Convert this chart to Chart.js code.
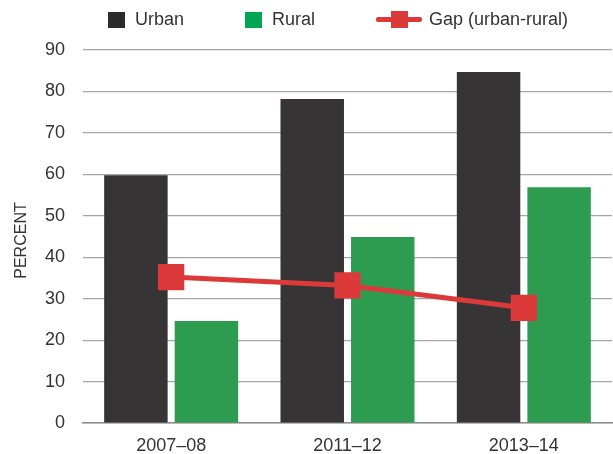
<!DOCTYPE html>
<html>
<head>
<meta charset="utf-8">
<script src="https://cdn.jsdelivr.net/npm/chart.js@4"></script>
<style>
  html, body { margin: 0; padding: 0; background: #fff; }
  #wrap { position: relative; width: 613px; height: 454px; }
  #legend {
    position: absolute; top: 9px; left: 108px;
    display: flex; align-items: center; white-space: nowrap;
    font-family: "Liberation Sans", Arial, sans-serif; font-size: 18px; color: #333;
  }
  .item { display: flex; align-items: center; margin-right: 61px; }
  .box { width: 17px; height: 16px; margin-right: 10px; }
  .line { position: relative; width: 46px; height: 17px; margin-right: 7px; }
  .line:before { content: ""; position: absolute; left: 0; right: 0; top: 6px; height: 5px; background: #dc3a3a; border-radius: 2px; }
  .line:after { content: ""; position: absolute; left: 15px; top: 0; width: 17px; height: 17px; background: #dc3a3a; }
</style>
</head>
<body>
<div id="wrap">
  <canvas id="chart" width="613" height="454"></canvas>
  <div id="legend">
    <div class="item"><span class="box" style="background:#2b2b2b"></span>Urban</div>
    <div class="item"><span class="box" style="background:#00a651"></span>Rural</div>
    <div class="item"><span class="line"></span>Gap (urban-rural)</div>
  </div>
</div>
<script>
const years = ['2007–08', '2011–12', '2013–14'];
const urban = [59.8, 78.2, 84.7];
const rural = [24.6, 44.9, 56.9];
const gap = [35.2, 33.2, 27.8];
const yTicks = [0, 10, 20, 30, 40, 50, 60, 70, 80, 90];
const yTitle = 'PERCENT';

const font = { family: '"Liberation Sans", Arial, sans-serif', size: 18 };

// axis title drawn by hand, sits closer to the edge than chart.js puts it
const yTitlePlugin = {
  id: 'yTitle',
  afterDraw(chart) {
    const ctx = chart.ctx;
    const area = chart.chartArea;
    ctx.save();
    ctx.translate(26, (area.top + area.bottom) / 2 + 4);
    ctx.rotate(-Math.PI / 2);
    ctx.font = '16px "Liberation Sans", Arial, sans-serif';
    ctx.fillStyle = '#333';
    ctx.textAlign = 'center';
    ctx.textBaseline = 'alphabetic';
    ctx.fillText(yTitle, 0, 0);
    ctx.restore();
  }
};

new Chart(document.getElementById('chart'), {
  type: 'bar',
  data: {
    labels: years,
    datasets: [
      {
        type: 'line',
        label: 'Gap (urban-rural)',
        data: gap,
        borderColor: '#dc3a3a',
        backgroundColor: '#dc3a3a',
        borderWidth: 5,
        pointStyle: 'rect',
        pointRadius: 15,
        pointHoverRadius: 15,
        order: 0
      },
      {
        label: 'Urban',
        data: urban,
        backgroundColor: '#363435',
        categoryPercentage: 0.8,
        barPercentage: 0.9,
        order: 1
      },
      {
        label: 'Rural',
        data: rural,
        backgroundColor: '#2e9c50',
        categoryPercentage: 0.8,
        barPercentage: 0.9,
        order: 1
      }
    ]
  },
  options: {
    responsive: false,
    animation: false,
    layout: { autoPadding: false, padding: { top: 50, right: 1, left: 0, bottom: 0 } },
    plugins: {
      legend: { display: false },
      tooltip: { enabled: false }
    },
    scales: {
      x: {
        grid: { display: false, drawTicks: false },
        border: { display: true, color: '#8c8c8c', width: 1.5 },
        ticks: { font: font, color: '#333', padding: 12, maxRotation: 0 },
        afterFit: s => { s.height = 31; s.paddingLeft = 0; s.paddingRight = 0; }
      },
      y: {
        min: 0,
        max: 90,
        afterBuildTicks: s => { s.ticks = yTicks.map(v => ({ value: v })); },
        grid: { color: '#a6a6a6', lineWidth: 1.2, drawTicks: false },
        border: { display: false },
        ticks: { font: font, color: '#333', padding: 18 },
        afterFit: s => { s.width = 83; }
      }
    }
  },
  plugins: [yTitlePlugin]
});
</script>
</body>
</html>
